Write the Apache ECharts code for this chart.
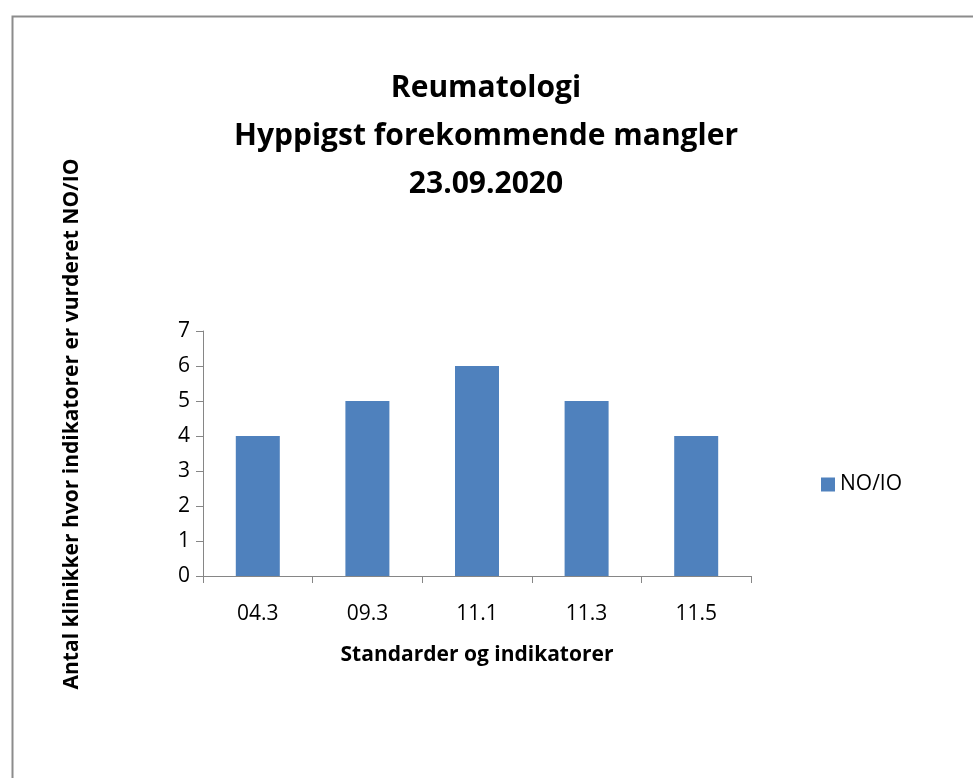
<!DOCTYPE html>
<html>
<head>
<meta charset="utf-8">
<script src="https://cdn.jsdelivr.net/npm/echarts@6/dist/echarts.min.js"></script>
<style>
html,body{margin:0;padding:0;background:#fff;}
#c{width:973px;height:778px;}
</style>
</head>
<body>
<div id="c"></div>
<script>
const categories = ['04.3', '09.3', '11.1', '11.3', '11.5'];
const seriesName = 'NO/IO';
const values = [4, 5, 6, 5, 4];
const yTicks = [0, 1, 2, 3, 4, 5, 6, 7];
const titleLines = ['Reumatologi', 'Hyppigst forekommende mangler', '23.09.2020'];
const xTitle = 'Standarder og indikatorer';
const yTitle = 'Antal klinikker hvor indikatorer er vurderet NO/IO';

const FONT = 'Open Sans';
const chart = echarts.init(document.getElementById('c'));
chart.setOption({
  backgroundColor: '#fff',
  animation: false,
  title: {
    text: titleLines.join('\n'),
    left: 481,
    textAlign: 'center',
    top: 59,
    textStyle: {fontFamily: FONT, fontWeight: 'bold', fontSize: 30, lineHeight: 48, color: '#000'}
  },
  graphic: [
    {type: 'rect', left: 10, top: 14, shape: {width: 1000, height: 800},
     style: {fill: 'none', stroke: '#8c8c8c', lineWidth: 2}, silent: true},
    {type: 'text', x: 72, y: 424, rotation: Math.PI / 2,
     style: {text: yTitle, fontFamily: FONT, fontWeight: 'bold', fontSize: 21, fill: '#000',
             align: 'center', verticalAlign: 'middle'}}
  ],
  legend: {
    data: [seriesName],
    left: 816, top: 469,
    icon: 'rect', itemWidth: 14, itemHeight: 14, itemGap: 5,
    textStyle: {fontFamily: FONT, fontSize: 21, color: '#000'}
  },
  grid: {left: 203, right: 222, top: 331, bottom: 202, containLabel: false},
  xAxis: {
    type: 'category',
    data: categories,
    name: xTitle,
    nameLocation: 'middle',
    nameGap: 69,
    nameTextStyle: {fontFamily: FONT, fontWeight: 'bold', fontSize: 21, color: '#000'},
    axisLine: {lineStyle: {color: '#868686', width: 1}},
    axisTick: {show: true, length: 7, alignWithLabel: false, lineStyle: {color: '#868686'}},
    axisLabel: {fontFamily: FONT, fontSize: 21, color: '#000', margin: 28},
    splitLine: {show: false}
  },
  yAxis: {
    type: 'value',
    min: yTicks[0], max: yTicks[yTicks.length - 1], interval: 1,
    axisLine: {show: true, lineStyle: {color: '#868686', width: 1}},
    axisTick: {show: true, length: 7, lineStyle: {color: '#868686'}},
    axisLabel: {fontFamily: FONT, fontSize: 21, color: '#000', margin: 13},
    splitLine: {show: false}
  },
  series: [{
    name: seriesName,
    type: 'bar',
    data: values,
    barWidth: 44,
    itemStyle: {color: '#4F81BD'}
  }]
});
</script>
</body>
</html>
